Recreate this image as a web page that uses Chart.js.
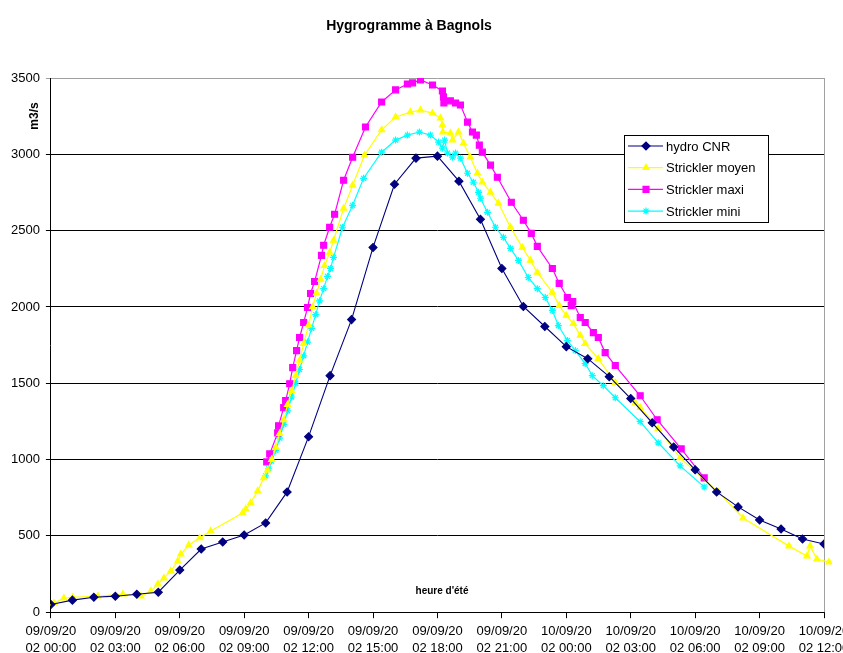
<!DOCTYPE html>
<html>
<head>
<meta charset="utf-8">
<title>Hygrogramme à Bagnols</title>
<script src="https://cdn.jsdelivr.net/npm/chart.js@4.4.0/dist/chart.umd.min.js"></script>
<style>
  html, body { margin: 0; padding: 0; background: #fff; overflow: hidden; }
  #wrap { position: relative; width: 843px; height: 653px; overflow: hidden; }
  #title { position: absolute; left: 0; top: 17px; width: 818px; text-align: center;
           font: bold 14px "Liberation Sans", Arial, sans-serif; line-height: 16px; color: #000; }
  #chart { position: absolute; left: 0; top: 0; }
</style>
</head>
<body>
<div id="wrap">
  <canvas id="chart" width="855" height="662"></canvas>
  <div id="title">Hygrogramme à Bagnols</div>
</div>
<script>
// x ticks : every 3 hours from 09/09/2002 00:00
const xTickDates = ['09/09/20', '09/09/20', '09/09/20', '09/09/20', '09/09/20', '09/09/20', '09/09/20',
  '09/09/20', '10/09/20', '10/09/20', '10/09/20', '10/09/20', '10/09/20'];
const xTickTimes = ['02 00:00', '02 03:00', '02 06:00', '02 09:00', '02 12:00', '02 15:00', '02 18:00',
  '02 21:00', '02 00:00', '02 03:00', '02 06:00', '02 09:00', '02 12:00'];

// hydro CNR : hourly values (hours since 09/09 00:00)
const hydroHours = [0, 1, 2, 3, 4, 5, 6, 7, 8, 9, 10, 11, 12, 13, 14, 15, 16, 17, 18, 19, 20,
  21, 22, 23, 24, 25, 26, 27, 28, 29, 30, 31, 32, 33, 34, 35, 36];
const hydroValues = [50, 79, 98, 105, 118, 131, 276, 414, 460, 506, 585, 788, 1150, 1550, 1917, 2390,
  2804, 2975, 2988, 2824, 2574, 2252, 2003, 1872, 1740, 1661, 1543, 1400, 1241, 1083, 933, 788,
  690, 604, 545, 480, 447];

// Strickler moyen
const moyenHours = [0.14, 0.6, 1.02, 2.19, 3.35, 4.19, 4.65, 4.98, 5.26, 5.58, 5.91, 6.05, 6.42, 6.93,
  7.44, 8.93, 9.07, 9.3, 9.63, 9.91, 10.09, 10.28, 10.47, 10.65, 10.84, 11.02, 11.21, 11.4, 11.58,
  11.77, 12.0, 12.19, 12.37, 12.56, 12.74, 12.98, 13.16, 13.63, 14.05, 14.6, 15.4, 16.05, 16.74,
  17.21, 17.77, 18.14, 18.23, 18.25, 18.6, 18.7, 18.98, 19.21, 19.53, 19.86, 20.09, 20.47, 20.84,
  21.4, 21.95, 22.33, 22.65, 23.35, 23.67, 24.0, 24.33, 24.65, 24.88, 25.49, 26.28, 27.21, 27.44,
  28.28, 29.3, 31.07, 32.23, 34.37, 35.21, 35.35, 35.67, 36.23];
const moyenValues = [59, 92, 98, 105, 118, 105, 138, 184, 223, 269, 335, 381, 440, 486,
  532, 650, 676, 716, 795, 880, 930, 1000, 1080, 1170, 1260, 1360, 1450, 1550, 1650,
  1760, 1880, 2000, 2090, 2180, 2270, 2357, 2436, 2646, 2797, 2994, 3160, 3244, 3277,
  3290, 3270, 3237, 3191, 3146, 3139, 3093, 3146, 3073, 2981, 2876, 2817, 2751, 2679,
  2522, 2390, 2305, 2226, 2095, 2009, 1944, 1891, 1813, 1760, 1661, 1504, 1372, 1340,
  1202, 1011, 788, 617, 433, 368, 433, 348, 328];

// Strickler maxi
const maxiHours = [10.05, 10.19, 10.56, 10.6, 10.84, 10.93, 11.12, 11.26, 11.44, 11.58, 11.77, 11.95,
  12.09, 12.28, 12.6, 12.7, 12.98, 13.21, 13.63, 14.05, 14.65, 15.4, 16.05, 16.6, 16.84, 17.21,
  17.77, 18.23, 18.28, 18.3, 18.6, 18.84, 19.07, 19.4, 19.63, 19.81, 19.95, 20.09, 20.47, 20.79,
  21.44, 22.0, 22.37, 22.65, 23.35, 23.67, 24.05, 24.23, 24.3, 24.65, 24.88, 25.26, 25.49, 25.81,
  26.28, 27.44, 28.23, 29.35, 30.42];
const maxiValues = [985, 1037, 1175, 1221, 1340, 1386, 1497, 1602, 1714, 1800, 1898, 1996,
  2088, 2167, 2338, 2404, 2522, 2607, 2830, 2981, 3179, 3343, 3422, 3461, 3468, 3487,
  3454, 3415, 3376, 3336, 3350, 3336, 3323, 3211, 3146, 3126, 3060, 3014, 2929, 2850,
  2686, 2568, 2482, 2397, 2252, 2154, 2062, 2009, 2035, 1931, 1898, 1832, 1800, 1701,
  1616, 1418, 1261, 1070, 880];

// Strickler mini
const miniHours = [10.0, 10.14, 10.28, 10.47, 10.65, 10.84, 11.02, 11.21, 11.4, 11.58, 11.77, 11.95,
  12.14, 12.33, 12.51, 12.7, 12.88, 13.02, 13.16, 13.58, 14.05, 14.56, 15.4, 16.05, 16.6, 17.16,
  17.67, 18.05, 18.23, 18.33, 18.47, 18.7, 18.84, 19.07, 19.4, 19.67, 19.91, 20.0, 20.33, 20.7,
  21.07, 21.4, 21.77, 22.23, 22.65, 23.02, 23.35, 23.63, 24.05, 24.42, 24.88, 25.21, 25.72, 26.28,
  27.44, 28.28, 29.3, 30.42];
const miniValues = [893, 940, 990, 1060, 1140, 1230, 1320, 1410, 1500, 1590, 1680, 1770,
  1860, 1950, 2040, 2120, 2200, 2252, 2325, 2522, 2666, 2843, 3014, 3093, 3126, 3146,
  3126, 3080, 3040, 3093, 3008, 2981, 3008, 2975, 2876, 2817, 2751, 2712, 2620, 2522,
  2456, 2384, 2305, 2193, 2120, 2062, 1977, 1878, 1780, 1714, 1629, 1550, 1484, 1405,
  1248, 1110, 959, 821];

const FONT = '"Liberation Sans", Arial, sans-serif';

function toPoints(xs, ys) {
  return xs.map((x, i) => ({ x: x, y: ys[i] }));
}

// gray frame on the right side of the plot
const frameRight = {
  id: 'frameRight',
  beforeDatasetsDraw(chart) {
    const a = chart.chartArea, ctx = chart.ctx;
    ctx.save();
    ctx.strokeStyle = '#a0a0a0';
    ctx.lineWidth = 1;
    ctx.beginPath();
    ctx.moveTo(Math.round(a.right) + 0.5, a.top);
    ctx.lineTo(Math.round(a.right) + 0.5, a.bottom);
    ctx.stroke();
    ctx.restore();
  }
};

// axis titles placed like the original sheet
const axisTexts = {
  id: 'axisTexts',
  afterDraw(chart) {
    const a = chart.chartArea, ctx = chart.ctx;
    ctx.save();
    ctx.fillStyle = '#000';
    ctx.font = 'bold 10px ' + FONT;
    ctx.textAlign = 'center';
    ctx.textBaseline = 'middle';
    ctx.fillText("heure d'été", 442, a.bottom - 21);
    ctx.translate(35, 116);
    ctx.rotate(-Math.PI / 2);
    ctx.font = 'bold 12px ' + FONT;
    ctx.fillText('m3/s', 0, 0);
    ctx.restore();
  }
};

// boxed legend inside the plot
const boxLegend = {
  id: 'boxLegend',
  afterDraw(chart) {
    const ctx = chart.ctx;
    const left = 624, top = 135, w = 144, h = 87;
    ctx.save();
    ctx.fillStyle = '#fff';
    ctx.fillRect(left, top, w, h);
    ctx.strokeStyle = '#000';
    ctx.lineWidth = 1;
    ctx.strokeRect(left + 0.5, top + 0.5, w, h);
    chart.data.datasets.forEach((ds, i) => {
      const y = top + 11 + i * 21.7;
      ctx.strokeStyle = ds.borderColor;
      ctx.lineWidth = 1.2;
      ctx.beginPath();
      ctx.moveTo(left + 4, y);
      ctx.lineTo(left + 39, y);
      ctx.stroke();
      ctx.fillStyle = ds.pointBackgroundColor;
      ctx.strokeStyle = ds.pointBorderColor;
      Chart.helpers.drawPoint(ctx, {
        pointStyle: ds.pointStyle, radius: ds.pointRadius, rotation: 0, borderWidth: 1
      }, left + 22, y);
      ctx.fillStyle = '#000';
      ctx.font = '13px ' + FONT;
      ctx.textAlign = 'left';
      ctx.textBaseline = 'middle';
      ctx.fillText(ds.label, left + 42, y + 1);
    });
    ctx.restore();
  }
};

const ctx = document.getElementById('chart').getContext('2d');
const chart = new Chart(ctx, {
  type: 'line',
  data: {
    datasets: [
      {
        label: 'hydro CNR',
        data: toPoints(hydroHours, hydroValues),
        borderColor: '#000080',
        borderWidth: 1.1,
        pointStyle: 'rectRot',
        pointRadius: 4,
        pointBackgroundColor: '#000080',
        pointBorderColor: '#000080',
      },
      {
        label: 'Strickler moyen',
        data: toPoints(moyenHours, moyenValues),
        borderColor: '#ffff00',
        borderWidth: 1.2,
        pointStyle: 'triangle',
        pointRadius: 3.5,
        pointBackgroundColor: '#ffff00',
        pointBorderColor: '#ffff00',
        clip: 8,
      },
      {
        label: 'Strickler maxi',
        data: toPoints(maxiHours, maxiValues),
        borderColor: '#ff00ff',
        borderWidth: 1.2,
        pointStyle: 'rect',
        pointRadius: 4.2,
        pointBackgroundColor: '#ff00ff',
        pointBorderColor: '#ff00ff',
      },
      {
        label: 'Strickler mini',
        data: toPoints(miniHours, miniValues),
        borderColor: '#00ffff',
        borderWidth: 1.2,
        pointStyle: 'star',
        pointRadius: 3.5,
        pointBackgroundColor: '#00ffff',
        pointBorderColor: '#00ffff',
      },
    ],
  },
  options: {
    responsive: false,
    animation: false,
    layout: { padding: { left: 5, top: 78, right: 31, bottom: 0 } },
    elements: { line: { tension: 0 }, point: { borderWidth: 1 } },
    plugins: {
      legend: { display: false },
      title: { display: false },
      tooltip: { enabled: false },
    },
    scales: {
      x: {
        type: 'linear',
        min: 0,
        max: 36,
        grid: { drawOnChartArea: false, drawTicks: true, tickLength: 6, color: '#000' },
        border: { color: '#000', width: 1 },
        ticks: {
          stepSize: 3,
          autoSkip: false,
          maxRotation: 0,
          padding: 5,
          color: '#000',
          font: { family: FONT, size: 13, lineHeight: 1.3 },
          callback: (v, i) => [xTickDates[i], xTickTimes[i]],
        },
      },
      y: {
        min: 0,
        max: 3500,
        grid: {
          color: (c) => (c.tick && c.tick.value === 3500 ? '#a0a0a0' : '#000'),
          tickLength: 5,
          lineWidth: 1,
        },
        border: { color: '#000', width: 1 },
        ticks: {
          stepSize: 500,
          padding: 6,
          color: '#000',
          font: { family: FONT, size: 13 },
          callback: (v) => String(v),
        },
      },
    },
  },
  plugins: [frameRight, axisTexts, boxLegend],
});
</script>
</body>
</html>
